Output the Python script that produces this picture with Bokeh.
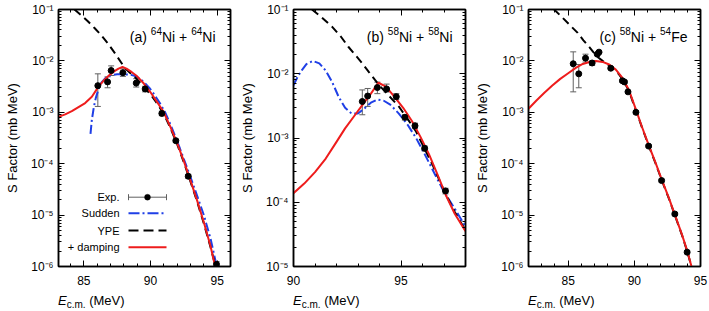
import math
from bokeh.plotting import figure
from bokeh.layouts import row, column
from bokeh.models import (Range1d, FixedTicker, SingleIntervalTicker, LinearAxis, LogAxis,
                          Label, Whisker, TeeHead, ColumnDataSource, Arrow, BoxAnnotation,
                          CustomJSTickFormatter, Div)
from bokeh.embed import file_html
from bokeh.resources import INLINE

# ---------------- data ----------------
# panel (a) 64Ni + 64Ni
exp_a_x = [86.05, 86.78, 87.05, 87.93, 88.93, 89.6, 90.85, 91.9, 92.83, 94.95]
exp_a_y = [3.3e-3, 3.9e-3, 6.5e-3, 5.9e-3, 3.7e-3, 2.85e-3, 9.5e-4, 2.8e-4, 5.7e-5, 1.1e-6]
exp_a_lo = [1.3e-3, 3.0e-3, 5.2e-3, 5.0e-3, 3.1e-3, 2.5e-3, 8.6e-4, 2.6e-4, 5.2e-5, 0.95e-6]
exp_a_hi = [5.6e-3, 4.9e-3, 8.0e-3, 7.0e-3, 4.5e-3, 3.2e-3, 1.05e-3, 3.0e-4, 6.2e-5, 1.25e-6]

sudden_a_x = [85.5, 85.6, 85.75, 85.9, 86.1, 86.3, 86.6, 87.0, 87.5, 88.0, 88.5, 88.8, 89.1,
              89.5, 89.9, 90.3, 90.7, 91.1, 91.6, 92.2, 92.8, 93.4, 94.0, 94.5, 94.97]
sudden_a_y = [3.8e-4, 7.1e-4, 1.26e-3, 1.91e-3, 2.82e-3, 3.72e-3, 4.57e-3, 5.25e-3, 5.5e-3, 5.5e-3,
              5.37e-3, 5.13e-3, 4.68e-3, 3.89e-3, 3.02e-3, 2.19e-3, 1.51e-3, 1.0e-3, 5.0e-4, 2.0e-4,
              7.6e-5, 2.8e-5, 1.0e-5, 3.5e-6, 1.0e-6]

ype_a_x = [84.3, 84.8, 85.3, 85.8, 86.3, 86.8, 87.3, 87.8, 88.1, 88.5, 89.0, 89.5, 90.0, 90.5,
           91.0, 91.5, 92.0, 92.5, 93.0, 93.5, 94.0, 94.5, 94.88]
ype_a_y = [1.0e-1, 7.76e-2, 5.89e-2, 4.37e-2, 3.16e-2, 2.19e-2, 1.45e-2, 9.33e-3, 7.08e-3, 5.75e-3,
           4.37e-3, 3.16e-3, 2.24e-3, 1.48e-3, 9.33e-4, 4.9e-4, 2.4e-4, 1.07e-4, 4.47e-5, 1.82e-5,
           6.9e-6, 2.4e-6, 1.0e-6]

damp_a_x = [83.1, 83.6, 84.1, 84.6, 85.1, 85.6, 86.1, 86.5, 86.9, 87.3, 87.6, 87.9, 88.2, 88.6,
            89.0, 89.5, 90.0, 90.5, 91.0, 91.5, 92.0, 92.5, 93.0, 93.5, 94.0, 94.5, 94.85]
damp_a_y = [8.13e-4, 9.12e-4, 1.05e-3, 1.26e-3, 1.51e-3, 2.0e-3, 3.16e-3, 4.17e-3, 5.25e-3, 6.31e-3,
            7.08e-3, 7.59e-3, 7.08e-3, 6.03e-3, 5.01e-3, 3.63e-3, 2.45e-3, 1.58e-3, 1.0e-3, 5.13e-4,
            2.51e-4, 1.12e-4, 4.68e-5, 1.91e-5, 7.24e-6, 2.51e-6, 1.0e-6]

# panel (b) 58Ni + 58Ni
exp_b_x = [93.2, 93.45, 93.9, 94.33, 94.78, 95.18, 95.65, 96.1, 97.07]
exp_b_y = [3.7e-3, 4.5e-3, 6.1e-3, 5.8e-3, 4.4e-3, 2.1e-3, 1.55e-3, 6.9e-4, 1.5e-4]
exp_b_lo = [2.3e-3, 3.1e-3, 4.9e-3, 5.2e-3, 4.0e-3, 1.9e-3, 1.4e-3, 6.3e-4, 1.35e-4]
exp_b_hi = [5.6e-3, 5.9e-3, 7.4e-3, 6.9e-3, 4.9e-3, 2.3e-3, 1.7e-3, 7.5e-4, 1.65e-4]

sudden_b_x = [90.0, 90.2, 90.4, 90.6, 90.9, 91.2, 91.5, 91.8, 92.1, 92.4, 92.7, 93.0, 93.3, 93.6,
              93.9, 94.2, 94.5, 94.9, 95.3, 95.7, 96.1, 96.6, 97.0, 97.5, 98.0]
sudden_b_y = [6.6e-3, 9.1e-3, 1.15e-2, 1.41e-2, 1.58e-2, 1.45e-2, 1.12e-2, 7.4e-3, 4.37e-3, 2.95e-3,
              2.4e-3, 2.4e-3, 2.88e-3, 3.55e-3, 3.98e-3, 3.8e-3, 3.31e-3, 2.4e-3, 1.62e-3, 1.0e-3,
              5.62e-4, 2.63e-4, 1.45e-4, 7.94e-5, 4.17e-5]

ype_b_x = [90.86, 91.3, 91.8, 92.2, 92.55, 92.9, 93.2, 93.5, 93.8, 94.1, 94.4, 94.9, 95.3, 95.7,
           96.1, 96.5, 97.0, 97.5, 98.0]
ype_b_y = [1.0e-1, 7.59e-2, 5.37e-2, 3.8e-2, 2.63e-2, 1.91e-2, 1.45e-2, 1.07e-2, 7.94e-3, 6.03e-3,
           4.68e-3, 3.09e-3, 2.0e-3, 1.26e-3, 6.76e-4, 3.63e-4, 1.51e-4, 7.08e-5, 3.63e-5]

damp_b_x = [90.0, 90.5, 91.0, 91.5, 92.0, 92.4, 92.8, 93.2, 93.6, 93.95, 94.3, 94.7, 95.1, 95.5,
            95.9, 96.3, 96.7, 97.1, 97.5, 98.0]
damp_b_y = [1.38e-4, 1.95e-4, 2.95e-4, 4.79e-4, 8.71e-4, 1.41e-3, 2.14e-3, 3.24e-3, 4.9e-3, 7.24e-3,
            6.31e-3, 4.37e-3, 2.95e-3, 1.86e-3, 1.05e-3, 5.62e-4, 2.69e-4, 1.26e-4, 6.61e-5, 3.55e-5]

# panel (c) 58Ni + 54Fe
exp_c_x = [85.38, 85.8, 86.31, 86.81, 87.2, 87.33, 88.22, 89.1, 89.25, 89.52, 90.12, 91.08,
           92.06, 93.06, 93.99]
exp_c_y = [8.8e-3, 5.6e-3, 1.13e-2, 9.1e-3, 1.35e-2, 1.48e-2, 7.2e-3, 4.1e-3, 3.9e-3, 2.5e-3,
           1.0e-3, 2.2e-4, 4.7e-5, 1.05e-5, 1.9e-6]
exp_c_lo = [2.5e-3, 3.0e-3, 9.5e-3, 8.2e-3, 1.27e-2, 1.4e-2, 6.8e-3, 3.85e-3, 3.65e-3, 2.35e-3,
            0.94e-3, 2.07e-4, 4.4e-5, 0.98e-5, 1.78e-6]
exp_c_hi = [1.5e-2, 8.5e-3, 1.35e-2, 1.0e-2, 1.43e-2, 1.56e-2, 7.6e-3, 4.35e-3, 4.15e-3, 2.65e-3,
            1.06e-3, 2.33e-4, 5.0e-5, 1.12e-5, 2.02e-6]

ype_c_x = [83.9, 84.5, 85.15, 85.7, 86.15, 86.6, 86.9, 87.3, 87.6, 88.0, 88.4, 88.8, 89.2, 89.6,
           90.1, 90.6, 91.1, 91.6, 92.1, 92.6, 93.1, 93.6, 94.0, 94.32]
ype_c_y = [1.02e-1, 7.24e-2, 4.9e-2, 3.55e-2, 2.51e-2, 1.86e-2, 1.48e-2, 1.15e-2, 1.0e-2, 8.51e-3,
           7.08e-3, 5.62e-3, 4.07e-3, 2.57e-3, 1.12e-3, 4.9e-4, 2.19e-4, 1.02e-4, 4.57e-5, 2.14e-5,
           9.33e-6, 4.07e-6, 1.95e-6, 1.0e-6]

damp_c_x = [82.0, 82.6, 83.2, 83.8, 84.4, 85.0, 85.6, 86.1, 86.6, 87.1, 87.6, 88.1, 88.6, 89.1,
            89.6, 90.1, 90.6, 91.1, 91.6, 92.1, 92.6, 93.1, 93.6, 94.0, 94.32]
damp_c_y = [1.17e-3, 1.7e-3, 2.4e-3, 3.31e-3, 4.47e-3, 5.75e-3, 7.41e-3, 8.71e-3, 9.55e-3, 1.0e-2,
            9.55e-3, 8.51e-3, 6.76e-3, 4.68e-3, 2.69e-3, 1.17e-3, 5.01e-4, 2.24e-4, 1.05e-4, 4.68e-5,
            2.19e-5, 9.55e-6, 4.17e-6, 2.0e-6, 1.0e-6]

# axes
x_range_a = (83.1, 96.0)
x_range_b = (90.0, 98.0)
x_range_c = (82.0, 95.0)
y_ticks_6 = [1e-6, 1e-5, 1e-4, 1e-3, 1e-2, 1e-1]
y_labels_6 = ["10⁻⁶", "10⁻⁵", "10⁻⁴", "10⁻³", "10⁻²", "10⁻¹"]
y_ticks_5 = [1e-5, 1e-4, 1e-3, 1e-2, 1e-1]
y_labels_5 = ["10⁻⁵", "10⁻⁴", "10⁻³", "10⁻²", "10⁻¹"]
legend_labels = ["Exp.", "Sudden", "YPE", "+ damping"]
y_title = "S Factor (mb MeV)"
x_title_html = ('<i>E</i><span style="font-size:10px;position:relative;top:3px">c.m.</span>'
                ' (MeV)')

# ---------------- styling ----------------
FONT = "Liberation Sans"
RED = "#ee1c1c"
BLUE = "#1f3fe6"
GRAY = "#606060"
FW, FH = 172, 257
W = {' ': 278, '(': 333, ')': 333, 'a': 556, 'b': 556, 'c': 500, 'N': 722, 'i': 222,
     '+': 584, 'F': 611, 'e': 556, '0': 556, '4': 556, '5': 556, '6': 556, '8': 556,
     'E': 667, '.': 278, 'm': 833, 'M': 833, 'V': 667}


def tw(s, size):
    return sum(W.get(ch, 556) for ch in s) * size / 1000.0


def rich(p, pieces, x0, y0, align):
    total = sum(tw(t, s) for t, s, _, _ in pieces)
    x = x0 - total if align == "right" else (x0 - total / 2 if align == "center" else x0)
    for t, s, dy, it in pieces:
        lead = len(t) - len(t.lstrip())
        p.add_layout(Label(x=x + lead * W[' '] * s / 1000.0, y=y0 + dy, x_units="screen",
                           y_units="screen", text=t.strip(), text_font=FONT,
                           text_font_size=f"{s}px", text_font_style="italic" if it else "normal",
                           text_color="black", text_align="left", text_baseline="alphabetic"))
        x += tw(t, s)


def style_axis(ax, hidden=False, standoff=5):
    ax.axis_line_color = "black"
    ax.axis_line_width = 1.5
    ax.major_tick_in = 6
    ax.major_tick_out = 0
    ax.minor_tick_in = 3
    ax.minor_tick_out = 0
    ax.major_tick_line_color = "black"
    ax.minor_tick_line_color = "black"
    ax.major_label_text_font = FONT
    ax.major_label_text_color = "black"
    if hidden:
        ax.major_label_text_font_size = "0px"
        ax.major_label_standoff = 0
    else:
        ax.major_label_text_font_size = "12px"
        ax.major_label_standoff = standoff


def make_panel(xr, yr, yt, yl, left, right, title, title_pad):
    p = figure(x_range=Range1d(*xr), y_range=Range1d(*yr), y_axis_type="log",
               frame_width=FW, frame_height=FH, min_border_left=left, min_border_right=right,
               min_border_top=9, min_border_bottom=23, toolbar_location=None,
               output_backend="svg", background_fill_color="white", border_fill_color="white")
    p.grid.visible = False
    p.outline_line_color = "black"
    p.outline_line_width = 1.5
    lo_e = round(math.log10(yr[0]))
    hi_e = round(math.log10(yr[1]))
    yminor = [k * 10.0 ** e for e in range(lo_e, hi_e) for k in range(2, 10)]
    xt = SingleIntervalTicker(interval=5, num_minor_ticks=5)
    ytk = FixedTicker(ticks=yt, minor_ticks=yminor)
    xa = p.xaxis[0]
    ya = p.yaxis[0]
    xa.ticker = xt
    ya.ticker = ytk
    ya.major_label_overrides = dict(zip(yt, yl))
    style_axis(xa, standoff=9)
    style_axis(ya, standoff=5)
    ya.axis_label = y_title
    ya.axis_label_text_font = FONT
    ya.axis_label_text_font_size = "13px"
    ya.axis_label_text_font_style = "normal"
    ya.axis_label_text_color = "black"
    ya.axis_label_standoff = 8
    blank = CustomJSTickFormatter(code="return ''")
    top = LinearAxis(ticker=xt, formatter=blank)
    style_axis(top, hidden=True)
    p.add_layout(top, "above")
    rt = LogAxis(ticker=ytk, formatter=blank)
    style_axis(rt, hidden=True)
    p.add_layout(rt, "right")
    rich(p, title, FW - title_pad, FH - 27, "right")
    return p


def add_series(p, sud, ype, damp, exp):
    if sud is not None:
        p.line(sud[0], sud[1], line_color=BLUE, line_width=2, line_dash="9 3 2 3")
    p.line(ype[0], ype[1], line_color="black", line_width=2, line_dash="8 5")
    p.line(damp[0], damp[1], line_color=RED, line_width=2, line_join="round")
    src = ColumnDataSource(dict(x=exp[0], y=exp[1], lo=exp[2], hi=exp[3]))
    p.add_layout(Whisker(source=src, base="x", lower="lo", upper="hi", dimension="height",
                         line_color=GRAY, line_width=1, level="underlay",
                         upper_head=TeeHead(size=6, line_color=GRAY, line_width=1),
                         lower_head=TeeHead(size=6, line_color=GRAY, line_width=1)))
    p.scatter("x", "y", source=src, size=6, fill_color="black", line_color="black")


def sup_title(tag, a, b, c, d):
    return [(tag + " ", 14, 0, False), (a, 10, 5.5, False), (b + " + ", 14, 0, False),
            (c, 10, 5.5, False), (d, 14, 0, False)]


def x_title(left, right):
    html = ('<div style="text-align:center;font-family:\'Liberation Sans\';font-size:13px;'
            'line-height:15px;padding-top:4px;color:black;white-space:nowrap">'
            + x_title_html + '</div>')
    return Div(text=html, width=FW, height=22, margin=(0, right, 0, left))


LA, RA = 58, 2
LB, RB = 61, 2
LC, RC = 61, 9

pa = make_panel(x_range_a, (1e-6, 1e-1), y_ticks_6, y_labels_6, LA, RA,
                sup_title("(a)", "64", "Ni", "64", "Ni"), 15)
add_series(pa, (sudden_a_x, sudden_a_y), (ype_a_x, ype_a_y), (damp_a_x, damp_a_y),
           (exp_a_x, exp_a_y, exp_a_lo, exp_a_hi))

pb = make_panel(x_range_b, (1e-5, 1e-1), y_ticks_5, y_labels_5, LB, RB,
                sup_title("(b)", "58", "Ni", "58", "Ni"), 13)
add_series(pb, (sudden_b_x, sudden_b_y), (ype_b_x, ype_b_y), (damp_b_x, damp_b_y),
           (exp_b_x, exp_b_y, exp_b_lo, exp_b_hi))

pc = make_panel(x_range_c, (1e-6, 1e-1), y_ticks_6, y_labels_6, LC, RC,
                sup_title("(c)", "58", "Ni", "54", "Fe"), 13)
add_series(pc, None, (ype_c_x, ype_c_y), (damp_c_x, damp_c_y),
           (exp_c_x, exp_c_y, exp_c_lo, exp_c_hi))

# legend in panel (a), screen units relative to the frame
rows_y = [69.3, 53.3, 36, 19.3]
tx, lx0, lx1 = 61, 70, 108
for lab, yy in zip(legend_labels, rows_y):
    pa.add_layout(Label(x=tx, y=yy, x_units="screen", y_units="screen", text=lab,
                        text_font=FONT, text_font_size="11px", text_align="right",
                        text_baseline="middle", text_color="black"))
pa.add_layout(Arrow(x_start=lx0, y_start=rows_y[0], x_end=lx1, y_end=rows_y[0],
                    start_units="screen", end_units="screen", line_color=GRAY, line_width=1,
                    start=TeeHead(size=6, line_color=GRAY, line_width=1),
                    end=TeeHead(size=6, line_color=GRAY, line_width=1)))
mid = (lx0 + lx1) / 2
pa.add_layout(BoxAnnotation(left=mid - 3, right=mid + 3, bottom=rows_y[0] - 3,
                            top=rows_y[0] + 3, left_units="screen", right_units="screen",
                            top_units="screen", bottom_units="screen", border_radius=3,
                            fill_color="black", fill_alpha=1, line_color="black"))
for yy, col, dash in [(rows_y[1], BLUE, "11 3 2 3"), (rows_y[2], "black", "10 5"),
                      (rows_y[3], RED, "solid")]:
    pa.add_layout(Arrow(x_start=lx0, y_start=yy, x_end=lx1, y_end=yy, start_units="screen",
                        end_units="screen", line_color=col, line_width=2, line_dash=dash,
                        start=None, end=None))

layout = column(row(pa, pb, pc),
                row(x_title(LA, RA), x_title(LB, RB), x_title(LC, RC)))
open("out.html", "w").write(file_html(layout, INLINE))
